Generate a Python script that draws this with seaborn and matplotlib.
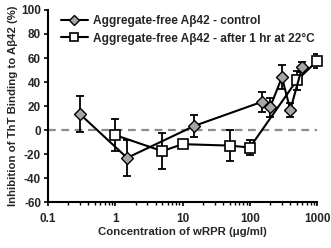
import numpy as np
import pandas as pd
import matplotlib
matplotlib.use("Agg")
import matplotlib.pyplot as plt
import seaborn as sns
from matplotlib.lines import Line2D

# Data
ctrl_x = [0.3, 1.5, 15, 150, 200, 300, 400, 600]
ctrl_y = [13.3, -23, 3.6, 23.5, 19, 44, 17, 52.5]
ctrl_err = [15, 15, 9, 8, 8, 10, 6, 4]

aged_x = [1, 5, 10, 50, 100, 500, 1000]
aged_y = [-4.1, -17.4, -11.6, -12.8, -14.4, 41.5, 57.5]
aged_err = [13, 15, 2, 13, 6, 8, 6]

label_ctrl = "Aggregate-free A\u03b242 - control"
label_aged = "Aggregate-free A\u03b242 - after 1 hr at 22\u00b0C"
xlabel = "Concentration of wRPR (\u03bcg/ml)"
ylabel = "Inhibition of ThT Binding to A\u03b242 (%)"
yticks = [-60, -40, -20, 0, 20, 40, 60, 80, 100]
xticks = [0.1, 1, 10, 100, 1000]
xticklabels = ["0.1", "1", "10", "100", "1000"]

sns.set_theme(style="ticks")
plt.rcParams['font.family'] = ['Liberation Sans', 'DejaVu Sans']
plt.rcParams['font.weight'] = 'bold'

fig = plt.figure(figsize=(3.31, 2.48), dpi=100)
ax = fig.add_axes([0.145, 0.184, 0.813, 0.776])

df_c = pd.DataFrame({"x": ctrl_x, "y": ctrl_y})
df_a = pd.DataFrame({"x": aged_x, "y": aged_y})

ax.axhline(0, color="#8c8c8c", lw=1.6, ls=(0, (3.5, 2.5)), zorder=1)

ax.errorbar(aged_x, aged_y, yerr=aged_err, fmt="none", ecolor="black",
            elinewidth=1.3, capsize=2.6, capthick=1.3, zorder=2)
sns.lineplot(data=df_a, x="x", y="y", ax=ax, color="black", lw=1.5,
             marker="s", markersize=6.5, markerfacecolor="white",
             markeredgecolor="black", markeredgewidth=1.2, sort=False,
             zorder=3, clip_on=False)
ax.errorbar(ctrl_x, ctrl_y, yerr=ctrl_err, fmt="none", ecolor="black",
            elinewidth=1.3, capsize=2.6, capthick=1.3, zorder=4)
sns.lineplot(data=df_c, x="x", y="y", ax=ax, color="black", lw=1.5,
             marker="D", markersize=5.8, markerfacecolor="#a6a6a6",
             markeredgecolor="black", markeredgewidth=1.0, sort=False,
             zorder=5, clip_on=False)

ax.set_xscale("log")
ax.set_xlim(0.1, 1000)
ax.set_ylim(-60, 100)
ax.set_xticks(xticks)
ax.set_xticklabels(xticklabels)
ax.set_yticks(yticks)
ax.set_yticklabels([str(v) for v in yticks])
ax.xaxis.set_minor_locator(matplotlib.ticker.LogLocator(base=10, subs=np.arange(2, 10), numticks=20))
ax.xaxis.set_minor_formatter(matplotlib.ticker.NullFormatter())
ax.tick_params(axis="both", which="major", labelsize=8.5, length=3, width=1.2,
               direction="out", color="black", pad=2)
ax.tick_params(axis="x", which="major", pad=5)
ax.tick_params(axis="x", which="minor", length=2, width=1, direction="out", color="black")
for lab in ax.get_xticklabels() + ax.get_yticklabels():
    lab.set_fontweight("bold")
for s in ["top", "right"]:
    ax.spines[s].set_visible(False)
for s in ["left", "bottom"]:
    ax.spines[s].set_color("black")
    ax.spines[s].set_linewidth(1.5)

ax.set_xlabel(xlabel, fontsize=8.2, fontweight="bold", labelpad=1)
ax.set_ylabel(ylabel, fontsize=8.2, fontweight="bold", labelpad=2)

h1 = Line2D([], [], color="black", lw=1.5, marker="D", markersize=5.2,
            markerfacecolor="#a6a6a6", markeredgecolor="black", markeredgewidth=1.0)
h2 = Line2D([], [], color="black", lw=1.5, marker="s", markersize=5.8,
            markerfacecolor="white", markeredgecolor="black", markeredgewidth=1.2)
leg = ax.legend([h1, h2], [label_ctrl, label_aged], loc="upper left",
                bbox_to_anchor=(0.02, 1.01), frameon=False, fontsize=8.6,
                handlelength=2.3, handletextpad=0.45, labelspacing=0.45,
                borderaxespad=0.2)
for t in leg.get_texts():
    t.set_fontweight("bold")

fig.savefig("out.png", dpi=100)
